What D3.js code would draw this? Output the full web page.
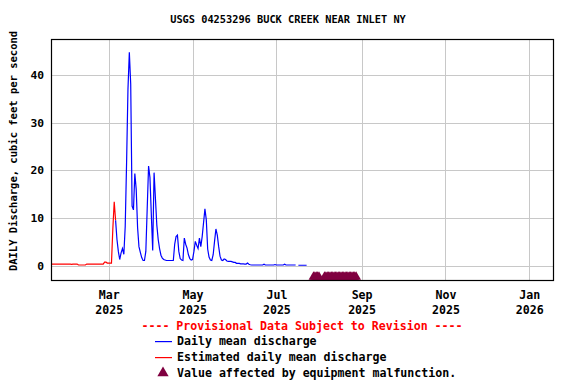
<!DOCTYPE html>
<html>
<head>
<meta charset="utf-8">
<script src="https://cdn.jsdelivr.net/npm/d3@7"></script>
<style>
  body { margin: 0; background: #fff; }
  svg text { font-family: "DejaVu Sans Mono", "Liberation Mono", monospace; font-weight: bold; }
</style>
</head>
<body>
<div id="chart"></div>
<script>
// estimated daily mean discharge, one value per day from Jan 18 2025
const estimatedStart = '2025-01-18';
const estimatedFlow = [
  0.35, 0.35, 0.35, 0.35, 0.35, 0.35, 0.35, 0.35, 0.35, 0.35,
  0.35, 0.35, 0.35, 0.35, 0.35, 0.3, 0.35, 0.35, 0.35, 0.35,
  0.15, 0.15, 0.15, 0.15, 0.15, 0.15, 0.35, 0.35, 0.35, 0.35,
  0.35, 0.35, 0.35, 0.35, 0.35, 0.35, 0.35, 0.35, 0.35, 0.75,
  0.75, 0.55, 0.55, 0.55, 0.55, 7.8, 13.4, 9.5
];

// daily mean discharge, one value per day from Mar 6 2025 (null = no value)
const dailyStart = '2025-03-06';
const dailyFlow = [
  9.5, 5.5, 3.0, 1.3, 2.7, 3.6, 2.4, 8.2, 21.6, 37,
  44.7, 38, 12.5, 11.7, 19.3, 16, 8, 4.0, 2.8, 1.7,
  1.1, 1.1, 3.0, 12, 20.9, 18.5, 10.7, 3.2, 19.5, 14,
  8.5, 5.5, 3.6, 2.2, 1.6, 1.3, 1.2, 1.1, 1.1, 1.1,
  1.1, 1.1, 1.1, 4.5, 6.1, 6.4, 3.0, 1.5, 1.2, 1.1,
  5.8, 4.5, 3.7, 2.3, 1.5, 1.2, 1.3, 3.0, 5.1, 4.3,
  3.6, 5.8, 4.0, 6.1, 9.0, 11.9, 9.6, 3.5, 1.8, 1.2,
  1.1, 2.3, 5.1, 7.7, 6.4, 4.0, 2.0, 1.2, 1.1, 1.4,
  1.3, 1.0, 0.9, 0.9, 0.9, 0.8, 0.7, 0.7, 0.5, 0.5,
  0.5, 0.4, 0.4, 0.4, 0.35, 0.35, 0.55, 0.3, 0.2, 0.15,
  0.15, 0.15, 0.15, 0.15, 0.15, 0.15, 0.15, 0.15, 0.3, 0.15,
  0.15, 0.15, 0.15, 0.15, 0.15, 0.15, 0.25, 0.15, 0.15, 0.15,
  0.15, 0.15, 0.15, 0.3, 0.15, 0.15, 0.15, 0.15, 0.15, 0.15,
  0.15, 0.15, null, 0.1, 0.1, 0.1, 0.1, 0.1, 0.1, 0.1
];

// days flagged as affected by equipment malfunction
const malfunctionDates = [
  '2025-07-28', '2025-07-29', '2025-07-30', '2025-07-31', '2025-08-01',
  '2025-08-05', '2025-08-06', '2025-08-07', '2025-08-08', '2025-08-09',
  '2025-08-10', '2025-08-11', '2025-08-12', '2025-08-13', '2025-08-14',
  '2025-08-15', '2025-08-16', '2025-08-17', '2025-08-18', '2025-08-19',
  '2025-08-20', '2025-08-21', '2025-08-22', '2025-08-23', '2025-08-24',
  '2025-08-25', '2025-08-26', '2025-08-27', '2025-08-28'
];

const yTicks = [0, 10, 20, 30, 40];
const xTicks = ['2025-03-01', '2025-05-01', '2025-07-01', '2025-09-01', '2025-11-01', '2026-01-01'];

const parse = d3.utcParse('%Y-%m-%d');
const toSeries = (start, values) => values.map((v, i) => ({ date: d3.utcDay.offset(parse(start), i), value: v }));

const width = 576, height = 384;
const plot = { left: 51, right: 554, top: 39, bottom: 281 };

const svg = d3.select('#chart').append('svg')
  .attr('width', width)
  .attr('height', height);

const x = d3.scaleUtc()
  .domain([parse('2025-01-18'), parse('2026-01-19')])
  .range([plot.left, plot.right]);

const y = d3.scaleLinear()
  .domain([-3.2, 47.5])
  .range([plot.bottom, plot.top]);

// grid
const grid = svg.append('g').attr('class', 'grid');

grid.selectAll('line.h')
  .data(yTicks)
  .enter().append('line')
  .attr('class', 'h')
  .attr('x1', plot.left).attr('x2', plot.right)
  .attr('y1', (d) => Math.round(y(d)) + 0.5).attr('y2', (d) => Math.round(y(d)) + 0.5)
  .attr('stroke', '#c8c8c8');

grid.selectAll('line.v')
  .data(xTicks)
  .enter().append('line')
  .attr('class', 'v')
  .attr('y1', plot.top).attr('y2', plot.bottom)
  .attr('x1', (d) => Math.round(x(parse(d))) + 0.5).attr('x2', (d) => Math.round(x(parse(d))) + 0.5)
  .attr('stroke', '#c8c8c8');

// axes labels via d3 axes, no domain/ticks drawn
const yAxis = svg.append('g')
  .attr('transform', 'translate(' + plot.left + ',0)')
  .call(d3.axisLeft(y).tickValues(yTicks).tickSize(0).tickPadding(7));
yAxis.select('.domain').remove();
yAxis.selectAll('text').attr('font-size', 11.3).attr('fill', '#000')
  .style('font-family', '"DejaVu Sans Mono", monospace').style('font-weight', 'bold');

const xAxis = svg.append('g')
  .attr('transform', 'translate(0,' + plot.bottom + ')')
  .call(d3.axisBottom(x).tickValues(xTicks.map(parse)).tickSize(0).tickPadding(10)
    .tickFormat(d3.utcFormat('%b')));
xAxis.select('.domain').remove();
xAxis.selectAll('text').attr('font-size', 11.6).attr('fill', '#000')
  .style('font-family', '"DejaVu Sans Mono", monospace').style('font-weight', 'bold');
xAxis.selectAll('.tick').append('text')
  .attr('y', 25).attr('dy', '0.71em')
  .attr('font-size', 11.6).attr('fill', '#000').attr('text-anchor', 'middle')
  .text((d) => d3.utcFormat('%Y')(d));

// data lines
const line = d3.line()
  .defined((d) => d.value !== null)
  .x((d) => x(d.date))
  .y((d) => y(d.value));

svg.append('path')
  .datum(toSeries(estimatedStart, estimatedFlow))
  .attr('d', line)
  .attr('fill', 'none')
  .attr('stroke', '#ff0000')
  .attr('stroke-width', 1.2);

svg.append('path')
  .datum(toSeries(dailyStart, dailyFlow))
  .attr('d', line)
  .attr('fill', 'none')
  .attr('stroke', '#0000ff')
  .attr('stroke-width', 1.2);

// malfunction markers at the bottom of the plot
const tri = d3.symbol().type(d3.symbolTriangle).size(42);
svg.append('g')
  .selectAll('path')
  .data(malfunctionDates.map(parse))
  .enter().append('path')
  .attr('d', tri)
  .attr('transform', (d) => 'translate(' + x(d) + ',' + (y.range()[0] - 4) + ')')
  .attr('fill', '#800040');

// frame
svg.append('rect')
  .attr('x', plot.left + 0.5).attr('y', plot.top + 0.5)
  .attr('width', plot.right - plot.left - 1).attr('height', plot.bottom - plot.top - 1)
  .attr('fill', 'none').attr('stroke', '#000').attr('stroke-width', 1.2);

// title
svg.append('text')
  .attr('x', 288).attr('y', 23)
  .attr('text-anchor', 'middle')
  .attr('font-size', 10.3)
  .text('USGS 04253296 BUCK CREEK NEAR INLET NY');

// y label
svg.append('text')
  .attr('transform', 'translate(17,' + 151 + ') rotate(-90)')
  .attr('text-anchor', 'middle')
  .attr('font-size', 10.5)
  .text('DAILY Discharge, cubic feet per second');

// legend
svg.append('text')
  .attr('x', 302).attr('y', 330)
  .attr('text-anchor', 'middle')
  .attr('font-size', 11.6)
  .attr('fill', '#ff0000')
  .text('---- Provisional Data Subject to Revision ----');

const legendItems = [
  { label: 'Daily mean discharge', color: '#0000ff', kind: 'line' },
  { label: 'Estimated daily mean discharge', color: '#ff0000', kind: 'line' },
  { label: 'Value affected by equipment malfunction.', color: '#800040', kind: 'tri' }
];

const legend = svg.append('g')
  .selectAll('g')
  .data(legendItems)
  .enter().append('g')
  .attr('transform', (d, i) => 'translate(0,' + (341 + i * 16) + ')');

legend.each(function (d) {
  const g = d3.select(this);
  if (d.kind === 'line') {
    g.append('rect')
      .attr('x', 155).attr('y', 0)
      .attr('width', 17).attr('height', 1.2)
      .style('fill', d.color);
  } else {
    g.append('path')
      .attr('d', d3.symbol().type(d3.symbolTriangle).size(55))
      .attr('transform', 'translate(163,0)')
      .style('fill', d.color);
  }
});

legend.append('text')
  .attr('x', 177).attr('y', 4)
  .attr('font-size', 11.6)
  .text((d) => d.label);
</script>
</body>
</html>
